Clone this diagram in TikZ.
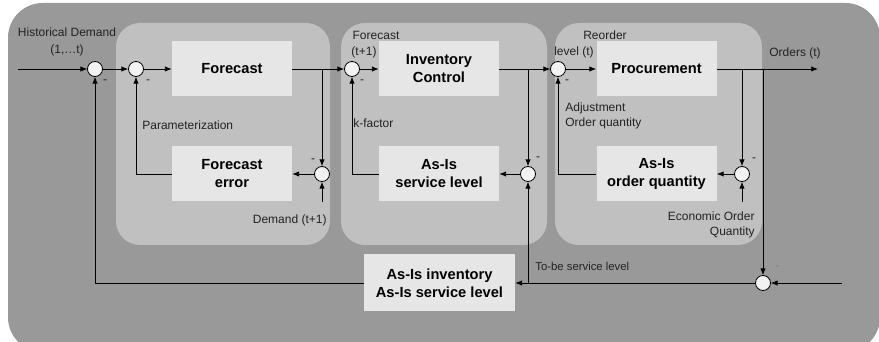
\documentclass[tikz,border=0pt]{standalone}
\usepackage{fontspec}
\setmainfont{Liberation Sans}
\usepackage{xcolor}
\usetikzlibrary{arrows.meta}
\definecolor{outergray}{HTML}{999999}
\definecolor{panelgray}{HTML}{C0C0C0}
\definecolor{boxgray}{HTML}{E6E6E6}
\definecolor{txtgray}{HTML}{222222}

\begin{document}
\begin{tikzpicture}[x=0.75pt,y=-0.75pt,line width=0.6pt,>={Latex[length=5pt,width=4pt]},
	blk/.style={fill=boxgray,minimum width=90pt,minimum height=41.25pt,inner sep=2pt,align=center,font=\fontsize{11}{13.5}\selectfont\bfseries},
	sum/.style={circle,draw,fill=boxgray!50!white,minimum size=11.25pt,inner sep=0pt},
	lbl/.style={font=\fontsize{9}{11.25}\selectfont,text=txtgray,inner sep=0pt}]
	\useasboundingbox (0,0) rectangle (879,342);
	\fill[outergray,rounded corners=26pt] (8,3) rectangle (880,352);
	\fill[panelgray,rounded corners=18pt] (116,23) rectangle (330,245);
	\fill[panelgray,rounded corners=18pt] (341,23) rectangle (547,245);
	\fill[panelgray,rounded corners=18pt] (555,23) rectangle (762,245);
	%
	\node[blk] (fc) at (232,69) {Forecast};
	\node[blk] (fe) at (232,174) {Forecast\\error};
	\node[blk] (ic) at (439,69) {Inventory\\Control};
	\node[blk] (sl) at (439,174) {As-Is\\service level};
	\node[blk] (pr) at (656.5,69) {Procurement};
	\node[blk] (oq) at (656.5,174) {As-Is\\order quantity};
	\node[blk,minimum width=113.25pt,minimum height=42.75pt] (bi) at (439.5,283) {As-Is inventory\\As-Is service level};
	%
	\node[sum] (s1) at (95,69) {};
	\node[sum] (s2) at (136,69) {};
	\node[sum] (s3) at (352,69) {};
	\node[sum] (s4) at (558,69) {};
	\node[sum] (e1) at (322,174) {};
	\node[sum] (e2) at (528,174) {};
	\node[sum] (e3) at (742,174) {};
	\node[sum] (sb) at (763,283) {};
	%
	\coordinate (in) at (18,69);
	\coordinate (out) at (818,69);
	\coordinate (dem) at (322,202);
	\coordinate (eoq) at (742,202);
	\coordinate (rin) at (842,283);
	%
	\path[->]
	(in) edge (s1)
	(s1) edge (s2)
	(s2) edge (fc)
	(fc) edge (s3)
	(s3) edge (ic)
	(ic) edge (s4)
	(s4) edge (pr)
	(pr) edge (out)
	(dem) edge (e1)
	(eoq) edge (e3)
	(e1) edge (fe)
	(e2) edge (sl)
	(e3) edge (oq)
	(rin) edge (sb)
	(sb) edge (bi);
	%
	\draw[->] (e1 |- fc) -- (e1);
	\draw[->] (e2 |- ic) -- (e2);
	\draw[->] (e3 |- pr) -- (e3);
	\draw[->] (sb |- pr) -- (sb);
	\draw[->] (e2 |- bi) -- (e2);
	\draw[->] (fe) -| (s2);
	\draw[->] (sl) -| (s3);
	\draw[->] (oq) -| (s4);
	\draw[->] (bi) -| (s1);
	%
	\node[lbl,align=center,font=\fontsize{9}{12.75}\selectfont] (hd) at (67,42) {Historical Demand\\(1,…t)};
	\node[lbl,anchor=west] (par) at (142,125) {Parameterization};
	\node[lbl,anchor=east] (dt) at (327,220) {Demand (t+1)};
	\node[lbl] (ft1) at (376,35) {Forecast};
	\node[lbl] (ft2) at (364,52) {(t+1)};
	\node[lbl,anchor=west] (kf) at (353,123) {k-factor};
	\node[lbl] (ro1) at (605,35) {Reorder};
	\node[lbl] (ro2) at (574,52) {level (t)};
	\node[lbl,anchor=west,align=left] (adj) at (565,115.5) {Adjustment\\Order quantity};
	\node[lbl,anchor=east,align=right] (eo) at (755,224.5) {Economic Order\\Quantity};
	\node[lbl] (ord) at (795,53) {Orders (t)};
	\node[lbl,anchor=west,font=\fontsize{8.5}{10}\selectfont] (tb) at (535,266) {To-be service level};
	%
	\node[lbl] (m1) at (105,82) {-};
	\node[lbl] (m2) at (148,82) {-};
	\node[lbl] (m3) at (362,82) {-};
	\node[lbl] (m4) at (567,82) {-};
	\node[lbl] (m5) at (313,161) {-};
	\node[lbl] (m6) at (538,159) {-};
	\node[lbl] (m7) at (754,160) {-};
	\node[lbl,text=gray] (m8) at (777,268) {-};
\end{tikzpicture}
\end{document}
